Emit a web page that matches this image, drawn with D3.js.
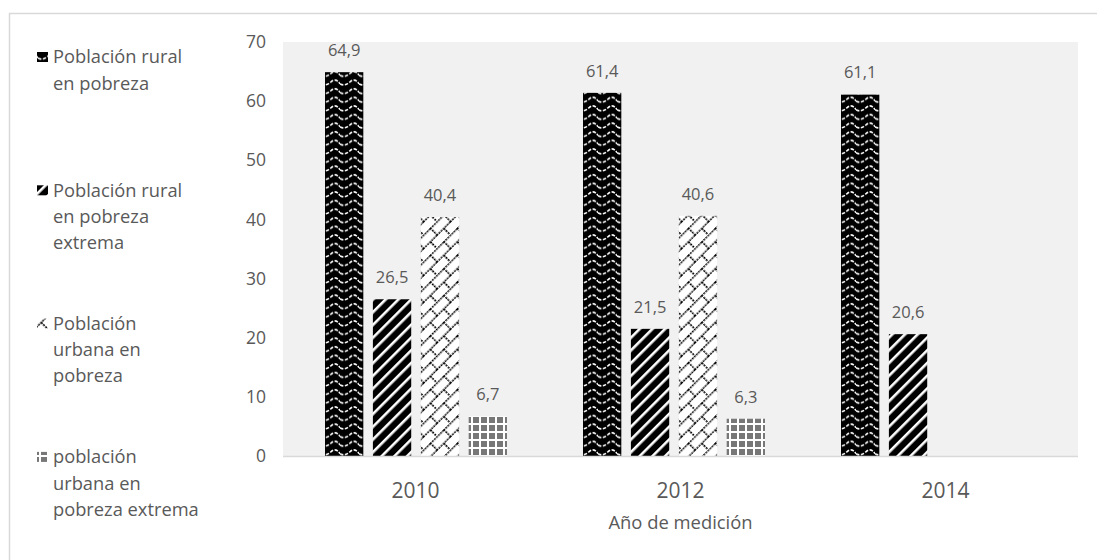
<!DOCTYPE html>
<html>
<head>
<meta charset="utf-8">
<script src="https://cdn.jsdelivr.net/npm/d3@7"></script>
<style>
  html, body { margin: 0; padding: 0; background: #ffffff; }
  svg text { font-family: "Open Sans", "Noto Sans", sans-serif; fill: #595959; }
</style>
</head>
<body>
<svg id="chart" width="1097" height="560"></svg>
<script>
// Años de medición y porcentajes por serie
const years = ["2010", "2012", "2014"];
const seriesNames = [
  ["Población rural", "en pobreza"],
  ["Población rural", "en pobreza", "extrema"],
  ["Población", "urbana en", "pobreza"],
  ["población", "urbana en", "pobreza extrema"]
];
const ruralPobreza = [64.9, 61.4, 61.1];
const ruralExtrema = [26.5, 21.5, 20.6];
const urbanaPobreza = [40.4, 40.6, null];
const urbanaExtrema = [6.7, 6.3, null];
const yTicks = [0, 10, 20, 30, 40, 50, 60, 70];

const series = [ruralPobreza, ruralExtrema, urbanaPobreza, urbanaExtrema];
const patternIds = ["pWave", "pStripe", "pBrick", "pGrid"];

const svg = d3.select("#chart");
const defs = svg.append("defs");

// Ondas blancas sobre fondo negro
const pw = defs.append("pattern").attr("id", "pWave")
  .attr("patternUnits", "userSpaceOnUse").attr("width", 19).attr("height", 8.6);
pw.append("rect").attr("width", 19).attr("height", 8.6).attr("fill", "#000");
pw.append("path").attr("d", "M0,6.5 C3,8 6,8 9.5,5 C12.5,2 16,1.5 19,6.5")
  .attr("fill", "none").attr("stroke", "#fff").attr("stroke-width", 1.6)
  .attr("stroke-dasharray", "3.5 1.5");

// Franjas diagonales anchas
const ps = defs.append("pattern").attr("id", "pStripe")
  .attr("patternUnits", "userSpaceOnUse").attr("width", 9).attr("height", 9)
  .attr("patternTransform", "rotate(45)");
ps.append("rect").attr("width", 9).attr("height", 9).attr("fill", "#000");
ps.append("rect").attr("width", 2.6).attr("height", 9).attr("fill", "#fff");

// Ladrillo diagonal
const pb = defs.append("pattern").attr("id", "pBrick")
  .attr("patternUnits", "userSpaceOnUse").attr("width", 19).attr("height", 19)
  .attr("patternTransform", "rotate(-45)");
pb.append("rect").attr("width", 19).attr("height", 19).attr("fill", "#fff");
pb.append("path").attr("d", "M0,0.7 H19 M0,10.2 H19 M0.7,0 V10.2 M10.2,10.2 V19")
  .attr("fill", "none").attr("stroke", "#000").attr("stroke-width", 1.6)
  .attr("stroke-dasharray", "2 0.9");

// Cuadrícula gris
const pg = defs.append("pattern").attr("id", "pGrid")
  .attr("patternUnits", "userSpaceOnUse").attr("width", 8).attr("height", 8);
pg.append("rect").attr("width", 8).attr("height", 8).attr("fill", "#fff");
pg.append("rect").attr("x", 1).attr("y", 1).attr("width", 6).attr("height", 6).attr("fill", "#777");

// Marco del gráfico
svg.append("rect").attr("x", 9.5).attr("y", 13.5).attr("width", 1200).attr("height", 700)
  .attr("fill", "#fff").attr("stroke", "#d9d9d9").attr("stroke-width", 1.5);

const plot = { left: 283, right: 1078, top: 42, bottom: 456 };

// Área de trazado
svg.append("rect").attr("x", plot.left).attr("y", plot.top)
  .attr("width", plot.right - plot.left).attr("height", plot.bottom - plot.top)
  .attr("fill", "#f1f1f1");

// Categorías del eje (etiquetas) y centros de cada grupo de barras
const x0 = d3.scaleBand().domain(years).range([plot.left, plot.right]);
const xGroup = d3.scalePoint().domain(years).range([416, 932]);
const x1 = d3.scaleBand().domain(d3.range(series.length))
  .range([-91, 91]).paddingInner(0.2).paddingOuter(0);
const y = d3.scaleLinear().domain([0, 70]).range([plot.bottom, plot.top]);

const fmt = v => d3.format(".1f")(v).replace(".", ",");

// Barras y etiquetas de valor
years.forEach((yr, i) => {
  const g = svg.append("g").attr("transform", `translate(${xGroup(yr)},0)`);
  series.forEach((s, k) => {
    const v = s[i];
    if (v == null) return;
    g.append("rect")
      .attr("x", x1(k)).attr("width", x1.bandwidth())
      .attr("y", y(v)).attr("height", y(0) - y(v))
      .attr("fill", `url(#${patternIds[k]})`);
    g.append("text")
      .attr("x", x1(k) + x1.bandwidth() / 2).attr("y", y(v) - 22)
      .attr("dy", "0.35em").attr("text-anchor", "middle")
      .attr("font-size", 16.5).text(fmt(v));
  });
});

// Eje X
svg.append("line").attr("x1", plot.left).attr("x2", plot.right)
  .attr("y1", plot.bottom + 0.5).attr("y2", plot.bottom + 0.5)
  .attr("stroke", "#d9d9d9").attr("stroke-width", 1.5);
const xAxis = svg.append("g").attr("transform", `translate(0,${plot.bottom})`)
  .call(d3.axisBottom(x0).tickSize(0).tickPadding(0));
xAxis.select(".domain").remove();
xAxis.selectAll("text").attr("y", 35).attr("dy", "0.35em")
  .attr("font-size", 21).style("fill", "#595959");
xAxis.attr("font-family", null);

// Eje Y
const yAxis = svg.append("g").attr("transform", `translate(${plot.left - 17},0)`)
  .call(d3.axisLeft(y).tickValues(yTicks).tickSize(0).tickPadding(0));
yAxis.select(".domain").remove();
yAxis.selectAll("text").attr("font-size", 17.5).style("fill", "#595959");
yAxis.attr("font-family", null);

// Título del eje X
svg.append("text").attr("x", (plot.left + plot.right) / 2).attr("y", 523)
  .attr("dy", "0.35em").attr("text-anchor", "middle").attr("font-size", 18.4)
  .text("Año de medición");

// Leyenda
const legend = svg.append("g");
seriesNames.forEach((lines, k) => {
  const top = 57 + k * 133.3;
  legend.append("rect").attr("x", 37).attr("y", top - 5).attr("width", 11).attr("height", 10)
    .attr("fill", `url(#${patternIds[k]})`);
  lines.forEach((ln, j) => {
    legend.append("text").attr("x", 53).attr("y", top + j * 26.2)
      .attr("dy", "0.35em").attr("font-size", 18.3).text(ln);
  });
});
</script>
</body>
</html>
